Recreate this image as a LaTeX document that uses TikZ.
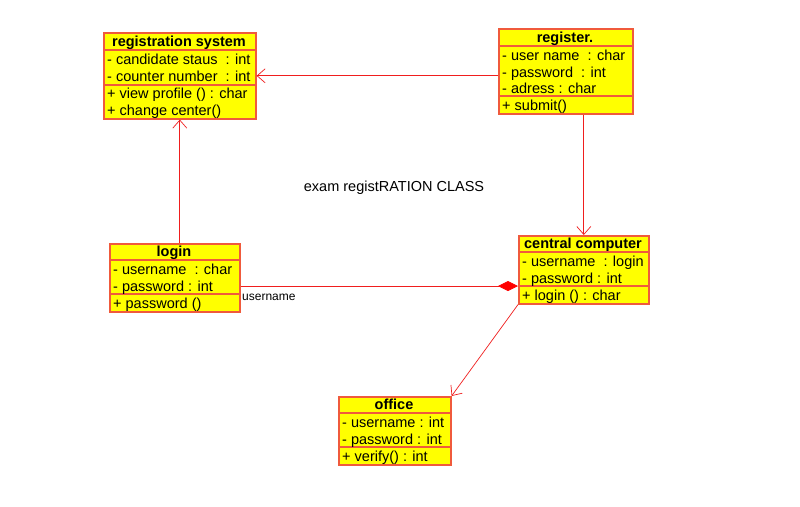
\documentclass[tikz,border=0pt]{standalone}
\usepackage{fontspec}
\setmainfont{Liberation Sans}
\usetikzlibrary{arrows.meta}
\definecolor{boxline}{RGB}{240,90,60}
\definecolor{boxfill}{RGB}{255,255,0}
\definecolor{conn}{RGB}{240,30,30}
\begin{document}
\begin{tikzpicture}[x=1pt,y=1pt,
  classbox/.style={draw=boxline, line width=1.6pt, fill=boxfill, anchor=north west, inner sep=0pt},
  sepline/.style={draw=boxline, line width=1.6pt},
  ctitle/.style={font=\fontsize{14.5}{16}\selectfont\bfseries, inner sep=0pt, text height=10, text depth=3, yshift=-1.5},
  member/.style={font=\fontsize{14.5}{16}\selectfont, anchor=west, inner sep=0pt, text height=10, text depth=3, yshift=-1.5},
  conline/.style={draw=conn, line width=0.7pt},
  openarrow/.style={-{Straight Barb[length=8pt,width=14pt]}},
  lbl/.style={font=\fontsize{12}{14}\selectfont, anchor=west, inner sep=0pt, text height=8.5, text depth=2.5}
]
\useasboundingbox (0,0) rectangle (800,-506);
\fill[white] (0,0) rectangle (800,-506);

% registration system
\node[classbox, minimum width=152, minimum height=86] (rs) at (103,-32) {};
\coordinate (rs1) at (103,-50); \coordinate (rs2) at (103,-85);
\draw[sepline] (rs1) -- (rs1 -| rs.east);
\draw[sepline] (rs2) -- (rs2 -| rs.east);
\node[ctitle] (rsT) at (179,-41.5) {registration system};
\node[member] (rsA1) at (107,-59) {- candidate staus\ \ : int};
\node[member] (rsA2) at (107,-76) {- counter number\ \ : int};
\node[member] (rsM1) at (107,-93.5) {+ view profile () : char};
\node[member] (rsM2) at (107,-110.5) {+ change center()};

% register.
\node[classbox, minimum width=134, minimum height=85] (reg) at (498,-28) {};
\coordinate (reg1) at (498,-46); \coordinate (reg2) at (498,-96);
\draw[sepline] (reg1) -- (reg1 -| reg.east);
\draw[sepline] (reg2) -- (reg2 -| reg.east);
\node[ctitle] (regT) at (565,-37.5) {register.};
\node[member] (regA1) at (502,-55) {- user name\ \ : char};
\node[member] (regA2) at (502,-72) {- password\ \ : int};
\node[member] (regA3) at (502,-88.5) {- adress : char};
\node[member] (regM1) at (502,-105) {+ submit()};

% login
\node[classbox, minimum width=130, minimum height=68] (login) at (109,-243) {};
\coordinate (lg1) at (109,-260); \coordinate (lg2) at (109,-294);
\draw[sepline] (lg1) -- (lg1 -| login.east);
\draw[sepline] (lg2) -- (lg2 -| login.east);
\node[ctitle] (lgT) at (174,-251.5) {login};
\node[member] (lgA1) at (113,-269) {- username\ \ : char};
\node[member] (lgA2) at (113,-286) {- password : int};
\node[member] (lgM1) at (113,-303) {+ password ()};

% central computer
\node[classbox, minimum width=130, minimum height=68] (cc) at (518,-235) {};
\coordinate (cc1) at (518,-252); \coordinate (cc2) at (518,-286);
\draw[sepline] (cc1) -- (cc1 -| cc.east);
\draw[sepline] (cc2) -- (cc2 -| cc.east);
\node[ctitle] (ccT) at (583,-243.5) {central computer};
\node[member] (ccA1) at (522,-261) {- username\ \ : login};
\node[member] (ccA2) at (522,-278) {- password : int};
\node[member] (ccM1) at (522,-295) {+ login () : char};

% office
\node[classbox, minimum width=112, minimum height=68] (of) at (338,-396) {};
\coordinate (of1) at (338,-413); \coordinate (of2) at (338,-447);
\draw[sepline] (of1) -- (of1 -| of.east);
\draw[sepline] (of2) -- (of2 -| of.east);
\node[ctitle] (ofT) at (394,-404.5) {office};
\node[member] (ofA1) at (342,-422) {- username : int};
\node[member] (ofA2) at (342,-439) {- password : int};
\node[member] (ofM1) at (342,-456) {+ verify() : int};

% diagram title
\node[font=\fontsize{14.5}{17}\selectfont, inner sep=0pt] (title) at (394,-188) {exam registRATION CLASS};

% connectors
\draw[conline, openarrow] (reg.west |- rs.east) -- (rs.east);
\draw[conline, openarrow] (rs.south |- login.north) -- (rs.south);
\draw[conline, openarrow] (cc.north |- reg.south) -- (cc.north);
\draw[conline, -{Diamond[length=20pt,width=10pt,fill=red,color=red]}] (login.east |- cc2) -- (cc2);
\draw[conline, openarrow] (cc.south west) -- (of.north east);
\node[lbl] (ulbl) at (242,-297) {username};
\end{tikzpicture}
\end{document}
